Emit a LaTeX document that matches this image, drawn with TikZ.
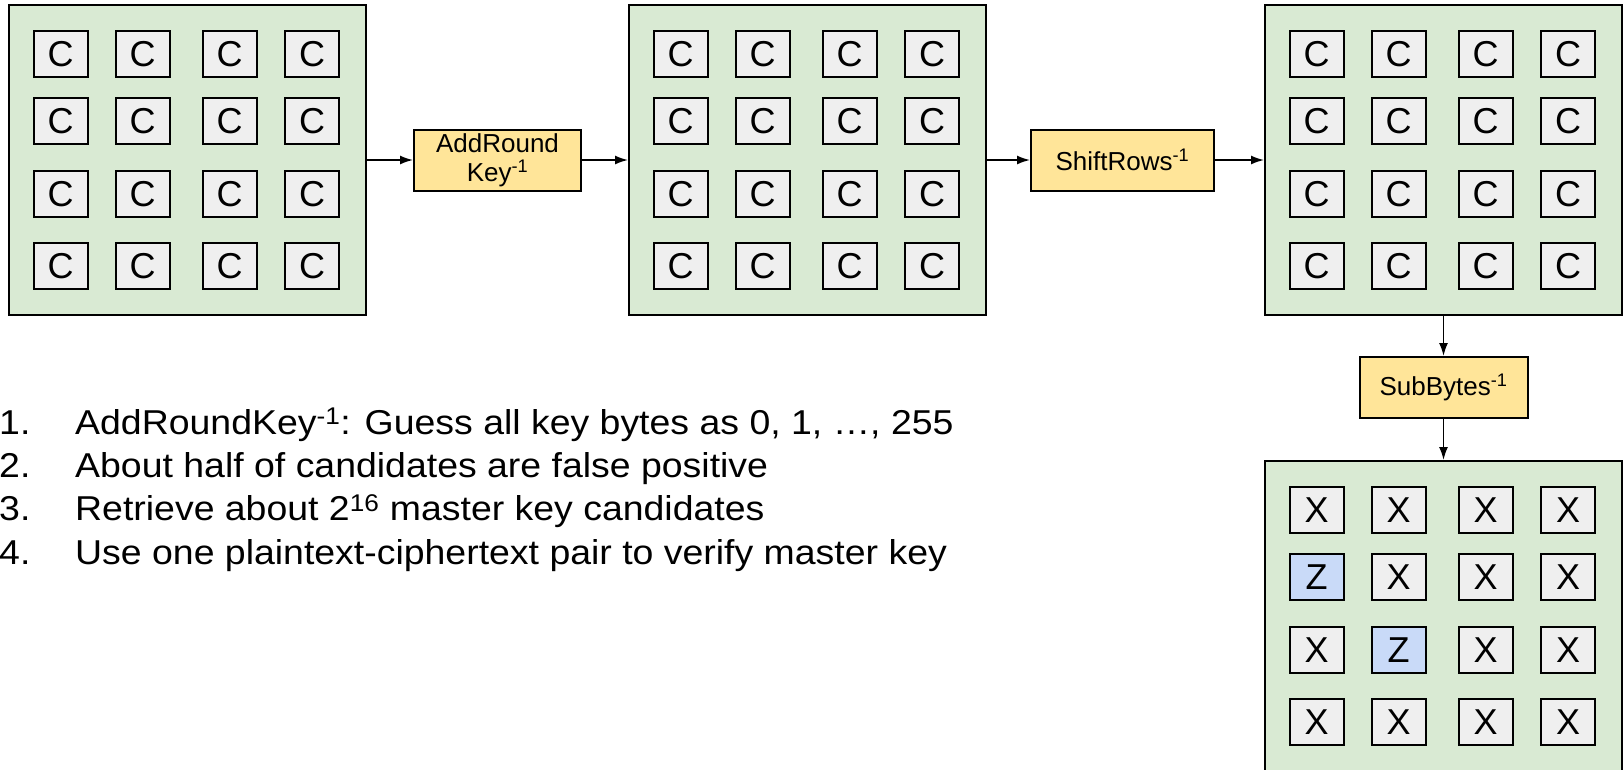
\documentclass[tikz,border=0pt]{standalone}
\usepackage{fontspec}
\setmainfont{Liberation Sans}
\newfontfamily\listfont{Liberation Sans}[FakeStretch=1.085]
\usetikzlibrary{arrows.meta}

\definecolor{panelgreen}{HTML}{D9EAD3}
\definecolor{cellgray}{HTML}{EFEFEF}
\definecolor{cellblue}{HTML}{C9DAF8}
\definecolor{opyellow}{HTML}{FFE599}

\tikzset{
  panel/.style={draw, line width=2pt, fill=panelgreen, minimum width=357pt,
    minimum height=310pt, anchor=north west, inner sep=0pt},
  cell/.style={draw, line width=2pt, fill=#1, minimum width=54pt,
    minimum height=46pt, inner sep=0pt, font=\fontsize{36}{40}\selectfont},
  cell/.default=cellgray,
  opbox/.style={draw, line width=2pt, fill=opyellow, minimum height=61pt,
    inner sep=0pt, align=center, font=\fontsize{26}{29}\selectfont},
  flow/.style={line width=1.6pt, -{Latex[length=13pt,width=9pt]}},
  item/.style={anchor=base west, inner sep=0pt, font=\listfont\fontsize{34.5}{40}\selectfont}
}

\begin{document}
\begin{tikzpicture}[x=1pt,y=-1pt]
  \useasboundingbox (0,0) rectangle (1623,769);

  % ciphertext states
  \foreach \s/\px/\py in {s1/8/4,s2/628/4,s3/1264/4}{
    \node[panel] (\s) at (\px,\py) {};
    \foreach \r/\cy in {1/50,2/117,3/190,4/262}
      \foreach \c/\cx in {1/52.5,2/134.5,3/221.5,4/304}
        \node[cell] (\s-\r\c) at (\px+\cx,\py+\cy) {C};
  }

  % state after SubBytes^-1
  \node[panel] (s4) at (1264,460) {};
  \foreach \r/\cy in {1/50,2/117,3/190,4/262}
    \foreach \c/\cx in {1/52.5,2/134.5,3/221.5,4/304}{
      \ifnum\r\c=21 \def\cfill{cellblue}\def\ctxt{Z}%
      \else\ifnum\r\c=32 \def\cfill{cellblue}\def\ctxt{Z}%
      \else \def\cfill{cellgray}\def\ctxt{X}\fi\fi
      \node[cell=\cfill] (s4-\r\c) at (1264+\cx,460+\cy) {\ctxt};
    }

  % operations
  \node[opbox, minimum width=167pt] (ark) at (497.5,160) {AddRound\\Key\textsuperscript{-1}};
  \node[opbox, minimum width=183pt] (sr) at (1122.5,160) {ShiftRows\textsuperscript{-1}};
  \node[opbox, minimum width=168pt] (sb) at (1443.5,387.5) {SubBytes\textsuperscript{-1}};

  \draw[flow] (s1.east) -- (ark.west);
  \draw[flow] (ark.east) -- (s2.west);
  \draw[flow] (s2.east) -- (sr.west);
  \draw[flow] (sr.east) -- (s3.west);
  \draw[flow] (s3.south) -- (sb.north);
  \draw[flow] (sb.south) -- (s4.north);

  % steps
  \foreach \i/\t in {1/{AddRoundKey\textsuperscript{-1}: Guess all key bytes as 0, 1, …, 255},
                     2/{About half of candidates are false positive},
                     3/{Retrieve about 2\textsuperscript{16} master key candidates},
                     4/{Use one plaintext-ciphertext pair to verify master key}}{
    \node[item] (num\i) at (-1,{434+43.4*(\i-1)}) {\i.};
    \node[item] (step\i) at (75,{434+43.4*(\i-1)}) {\t};
  }
\end{tikzpicture}
\end{document}
